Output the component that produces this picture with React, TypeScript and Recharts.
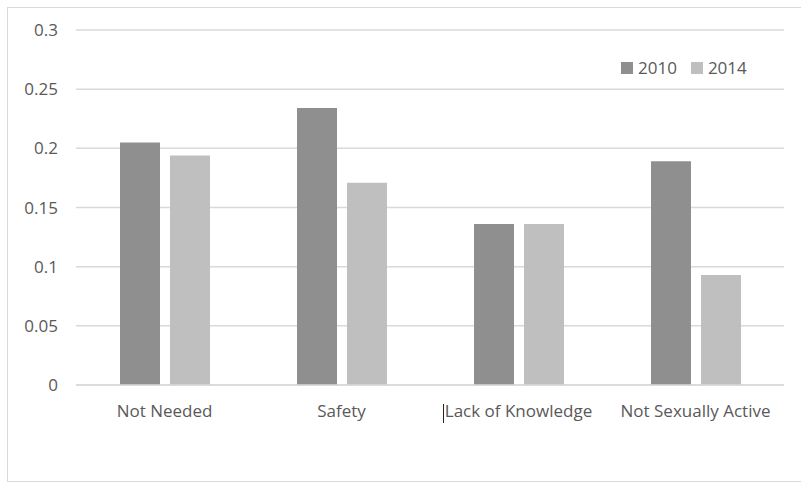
import React from "react";
import { BarChart, Bar, XAxis, YAxis, CartesianGrid } from "recharts";

const categories = ["Not Needed", "Safety", "Lack of Knowledge", "Not Sexually Active"];
const values2010 = [0.205, 0.234, 0.136, 0.189];
const values2014 = [0.194, 0.171, 0.136, 0.093];
const yTicks = [0, 0.05, 0.1, 0.15, 0.2, 0.25, 0.3];
const seriesNames = ["2010", "2014"];
const seriesColors = ["#8f8f8f", "#bfbfbf"];

const data = categories.map((c, i) => ({
  name: c,
  [seriesNames[0]]: values2010[i],
  [seriesNames[1]]: values2014[i],
}));

const FONT = "'Open Sans', sans-serif";
const TEXT = "#595959";

const XTick = (props: any) => {
  const { x, y, payload } = props;
  return (
    <g>
      <text x={x} y={y} dy={12} textAnchor="middle" fill={TEXT} fontSize={17} fontFamily={FONT}>
        {payload.value}
      </text>
      {payload.value === "Lack of Knowledge" ? (
        <line x1={x - 75} x2={x - 75} y1={y - 1} y2={y + 18} stroke="#222" strokeWidth={1} />
      ) : null}
    </g>
  );
};

const YTick = (props: any) => {
  const { x, y, payload } = props;
  return (
    <text x={x} y={y} dy={6} textAnchor="end" fill={TEXT} fontSize={17} fontFamily={FONT}>
      {String(payload.value)}
    </text>
  );
};

export default function App() {
  return (
    <div style={{ position: "absolute", left: 0, top: 0, width: 801, height: 485, background: "#fff", overflow: "hidden" }}>
      <div
        style={{
          position: "absolute",
          left: 7,
          top: 7,
          width: 820,
          height: 475,
          border: "1px solid #d9d9d9",
          boxSizing: "border-box",
        }}
      />
      <div style={{ position: "absolute", left: 0, top: 0 }}>
        <BarChart
          width={801}
          height={485}
          data={data}
          margin={{ top: 30, right: 17, bottom: 70, left: 0 }}
          barSize={40}
          barGap={10}
        >
          <CartesianGrid vertical={false} stroke="#d9d9d9" strokeWidth={1.5} />
          <XAxis
            dataKey="name"
            height={30}
            axisLine={{ stroke: "#d9d9d9", strokeWidth: 1.5 }}
            tickLine={false}
            tickSize={0}
            tickMargin={20}
            tick={<XTick />}
            interval={0}
          />
          <YAxis
            width={76}
            domain={[0, 0.3]}
            ticks={yTicks}
            axisLine={false}
            tickLine={false}
            tickSize={0}
            tickMargin={18}
            tick={<YTick />}
          />
          <Bar dataKey={seriesNames[0]} fill={seriesColors[0]} isAnimationActive={false} />
          <Bar dataKey={seriesNames[1]} fill={seriesColors[1]} isAnimationActive={false} />
        </BarChart>
      </div>
      <div
        style={{
          position: "absolute",
          left: 621,
          top: 56,
          display: "flex",
          alignItems: "center",
          fontFamily: FONT,
          fontSize: 17,
          color: TEXT,
          lineHeight: "24px",
        }}
      >
        {seriesNames.map((n, i) => (
          <div key={n} style={{ display: "flex", alignItems: "center", marginRight: 14 }}>
            <div style={{ width: 12, height: 12, background: seriesColors[i], marginRight: 5 }} />
            <span>{n}</span>
          </div>
        ))}
      </div>
    </div>
  );
}
